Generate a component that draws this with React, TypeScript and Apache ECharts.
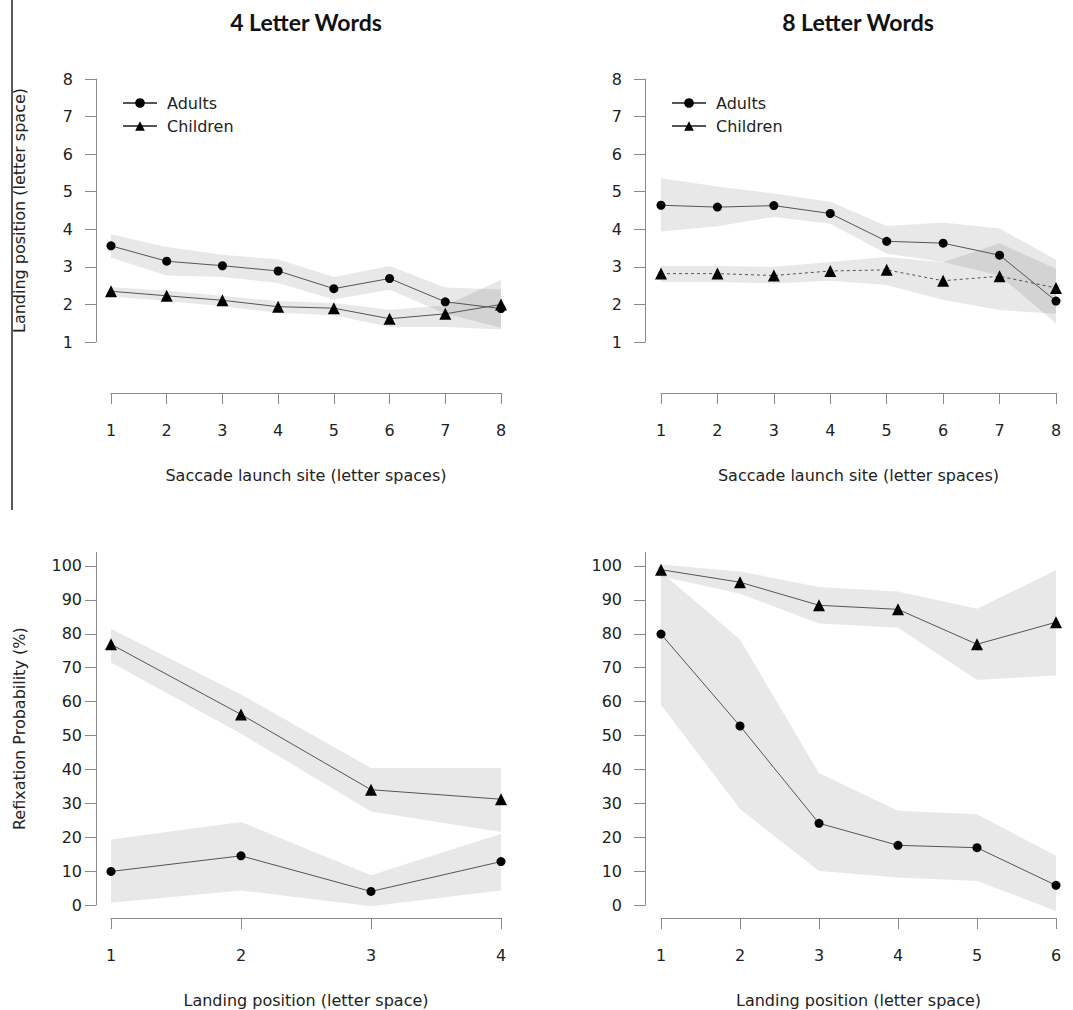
import React, { useEffect, useRef } from "react";
import * as echarts from "echarts";

// ---------- data ----------
const launchSites = [1, 2, 3, 4, 5, 6, 7, 8];
const landing4 = [1, 2, 3, 4];
const landing8 = [1, 2, 3, 4, 5, 6];

// Top-left: 4 letter words, landing position by launch site
const adults4Mean = [3.56, 3.15, 3.03, 2.89, 2.42, 2.69, 2.07, 1.89];
const adults4Upper = [3.87, 3.53, 3.32, 3.2, 2.73, 3.02, 2.45, 2.4];
const adults4Lower = [3.24, 2.77, 2.73, 2.57, 2.13, 2.39, 1.75, 1.38];
const children4Mean = [2.35, 2.23, 2.11, 1.94, 1.9, 1.62, 1.75, 2.0];
const children4Upper = [2.46, 2.37, 2.23, 2.09, 2.04, 1.86, 1.97, 2.66];
const children4Lower = [2.21, 2.09, 1.95, 1.78, 1.71, 1.4, 1.4, 1.33];

// Top-right: 8 letter words
const adults8Mean = [4.64, 4.59, 4.63, 4.42, 3.68, 3.63, 3.31, 2.09];
const adults8Upper = [5.36, 5.14, 4.95, 4.73, 4.09, 4.18, 4.02, 3.19];
const adults8Lower = [3.94, 4.08, 4.33, 4.15, 3.35, 3.13, 2.77, 1.49];
const children8Mean = [2.82, 2.82, 2.77, 2.89, 2.92, 2.63, 2.75, 2.44];
const children8Upper = [3.02, 3.02, 3.0, 3.13, 3.26, 3.12, 3.63, 2.95];
const children8Lower = [2.6, 2.6, 2.56, 2.63, 2.52, 2.12, 1.85, 1.75];

// Bottom-left: refixation probability, 4 letter words
const refixAdults4 = [9.9, 14.5, 4.0, 12.8];
const refixAdults4Upper = [19.3, 24.5, 8.8, 21.0];
const refixAdults4Lower = [0.7, 4.3, -0.4, 4.3];
const refixChildren4 = [76.9, 56.2, 34.0, 31.2];
const refixChildren4Upper = [81.5, 62.1, 40.4, 40.4];
const refixChildren4Lower = [71.5, 50.5, 27.6, 21.5];

// Bottom-right: refixation probability, 8 letter words
const refixAdults8 = [79.9, 52.8, 24.1, 17.6, 16.9, 5.8];
const refixAdults8Upper = [98.2, 78.3, 38.9, 27.8, 26.8, 14.5];
const refixAdults8Lower = [59.0, 28.3, 10.0, 8.1, 7.1, -1.8];
const refixChildren8 = [98.9, 95.2, 88.4, 87.2, 76.9, 83.4];
const refixChildren8Upper = [100.4, 98.4, 93.8, 92.5, 87.4, 98.7];
const refixChildren8Lower = [97.0, 91.8, 83.0, 81.8, 66.4, 67.7];

const landingTicks = [1, 2, 3, 4, 5, 6, 7, 8];
const probTicks = [0, 10, 20, 30, 40, 50, 60, 70, 80, 90, 100];

const titles = ["4 Letter Words", "8 Letter Words"];
const xNameTop = "Saccade launch site (letter spaces)";
const xNameBottom = "Landing position (letter space)";
const yNameTop = "Landing position (letter space)";
const yNameBottom = "Refixation Probability (%)";

// ---------- styles ----------
const FONT = "DejaVu Sans";
const TXT = "#222";
const AXIS = "#8a8a8a";
const BAND = "rgba(0,0,0,0.09)";

const pairs = (xs: number[], ys: number[]) => xs.map((x, i) => [x, ys[i]]);

function band(id: string, gi: number, xs: number[], lo: number[], hi: number[]) {
  return {
    type: "custom",
    name: id + " band",
    xAxisIndex: gi,
    yAxisIndex: gi,
    data: xs.map((x, i) => [x, lo[i], hi[i]]),
    encode: { x: 0, y: [1, 2] },
    silent: true,
    clip: false,
    z: 1,
    renderItem: (params: any, api: any) => {
      if (params.dataIndex !== 0) return null;
      const top = xs.map((x, i) => api.coord([x, hi[i]]));
      const bottom = xs.map((x, i) => api.coord([x, lo[i]])).reverse();
      return {
        type: "polygon",
        shape: { points: top.concat(bottom) },
        style: { fill: BAND, stroke: "none" },
      };
    },
  };
}

function mainLine(name: string, gi: number, xs: number[], ys: number[], dashed = false) {
  const tri = name === "Children";
  return {
    type: "line",
    name,
    xAxisIndex: gi,
    yAxisIndex: gi,
    data: pairs(xs, ys),
    symbol: tri ? "triangle" : "circle",
    symbolSize: tri ? 12 : 9,
    itemStyle: { color: "#000" },
    lineStyle: { color: "#555", width: 1, type: dashed ? [3, 3] : "solid" },
    clip: false,
    z: 3,
  };
}

function xAxis(gi: number, max: number, ticks: number[], offset: number, name: string) {
  return {
    type: "value",
    gridIndex: gi,
    min: 1,
    max,
    interval: 1,
    offset,
    name,
    nameLocation: "middle",
    nameGap: 74,
    nameTextStyle: { fontFamily: FONT, fontSize: 16, color: TXT, verticalAlign: "top" },
    axisLine: { show: true, onZero: false, lineStyle: { color: AXIS, width: 1 } },
    axisTick: { show: true, length: 11, lineStyle: { color: AXIS }, customValues: ticks },
    axisLabel: { fontFamily: FONT, fontSize: 16, color: TXT, margin: 29, customValues: ticks },
    splitLine: { show: false },
  };
}

function yAxis(gi: number, min: number, max: number, interval: number, ticks: number[], offset: number, margin: number, name: string) {
  return {
    type: "value",
    gridIndex: gi,
    min,
    max,
    interval,
    offset,
    name,
    nameLocation: "middle",
    nameGap: 69,
    nameTextStyle: { fontFamily: FONT, fontSize: 16, color: TXT },
    axisLine: { show: true, onZero: false, lineStyle: { color: AXIS, width: 1 } },
    axisTick: { show: true, length: 11, lineStyle: { color: AXIS }, customValues: ticks },
    axisLabel: { fontFamily: FONT, fontSize: 16, color: TXT, margin, customValues: ticks },
    splitLine: { show: false },
  };
}

function legend(left: number) {
  return {
    data: ["Adults", "Children"],
    orient: "vertical",
    left,
    top: 90,
    itemWidth: 34,
    itemHeight: 12,
    itemGap: 7,
    selectedMode: false,
    textStyle: { fontFamily: FONT, fontSize: 16, color: TXT, padding: [0, 0, 0, 5] },
  };
}

export default function App() {
  const ref = useRef<HTMLDivElement>(null);
  useEffect(() => {
    document.body.style.margin = "0";
    if (!ref.current) return;
    const chart = echarts.init(ref.current, null, { renderer: "svg" });
    const titleStyle = { fontFamily: "Lato", fontWeight: "bold", fontSize: 23, color: "#111" };
    chart.setOption({
      animation: false,
      backgroundColor: "#fff",
      title: [
        { text: titles[0], left: 306, top: 10, textAlign: "center", padding: 0, textStyle: titleStyle },
        { text: titles[1], left: 858, top: 10, textAlign: "center", padding: 0, textStyle: titleStyle },
      ],
      legend: [legend(117), legend(666)],
      graphic: [
        { type: "line", shape: { x1: 12, y1: 0, x2: 12, y2: 510 }, style: { stroke: "#222", lineWidth: 1.5 } },
      ],
      grid: [
        { left: 111, top: 79, width: 390, height: 263 },
        { left: 661, top: 79, width: 395, height: 263 },
        { left: 111, top: 552.4, width: 390, height: 352.6 },
        { left: 661, top: 552.4, width: 395, height: 352.6 },
      ],
      xAxis: [
        xAxis(0, 8, launchSites, 51, xNameTop),
        xAxis(1, 8, launchSites, 51, xNameTop),
        xAxis(2, 4, landing4, 13, xNameBottom),
        xAxis(3, 6, landing8, 13, xNameBottom),
      ],
      yAxis: [
        yAxis(0, 1, 8, 1, landingTicks, 15, 23, yNameTop),
        yAxis(1, 1, 8, 1, landingTicks, 16, 23, ""),
        yAxis(2, 0, 104, 10, probTicks, 15, 14, yNameBottom),
        yAxis(3, 0, 104, 10, probTicks, 16, 23, ""),
      ],
      series: [
        band("a4", 0, launchSites, adults4Lower, adults4Upper),
        band("c4", 0, launchSites, children4Lower, children4Upper),
        mainLine("Adults", 0, launchSites, adults4Mean),
        mainLine("Children", 0, launchSites, children4Mean),

        band("a8", 1, launchSites, adults8Lower, adults8Upper),
        band("c8", 1, launchSites, children8Lower, children8Upper),
        mainLine("Adults", 1, launchSites, adults8Mean),
        mainLine("Children", 1, launchSites, children8Mean, true),

        band("ra4", 2, landing4, refixAdults4Lower, refixAdults4Upper),
        band("rc4", 2, landing4, refixChildren4Lower, refixChildren4Upper),
        mainLine("Adults", 2, landing4, refixAdults4),
        mainLine("Children", 2, landing4, refixChildren4),

        band("ra8", 3, landing8, refixAdults8Lower, refixAdults8Upper),
        band("rc8", 3, landing8, refixChildren8Lower, refixChildren8Upper),
        mainLine("Adults", 3, landing8, refixAdults8),
        mainLine("Children", 3, landing8, refixChildren8),
      ],
    });
    return () => chart.dispose();
  }, []);
  return <div ref={ref} style={{ width: 1073, height: 1010 }} />;
}
